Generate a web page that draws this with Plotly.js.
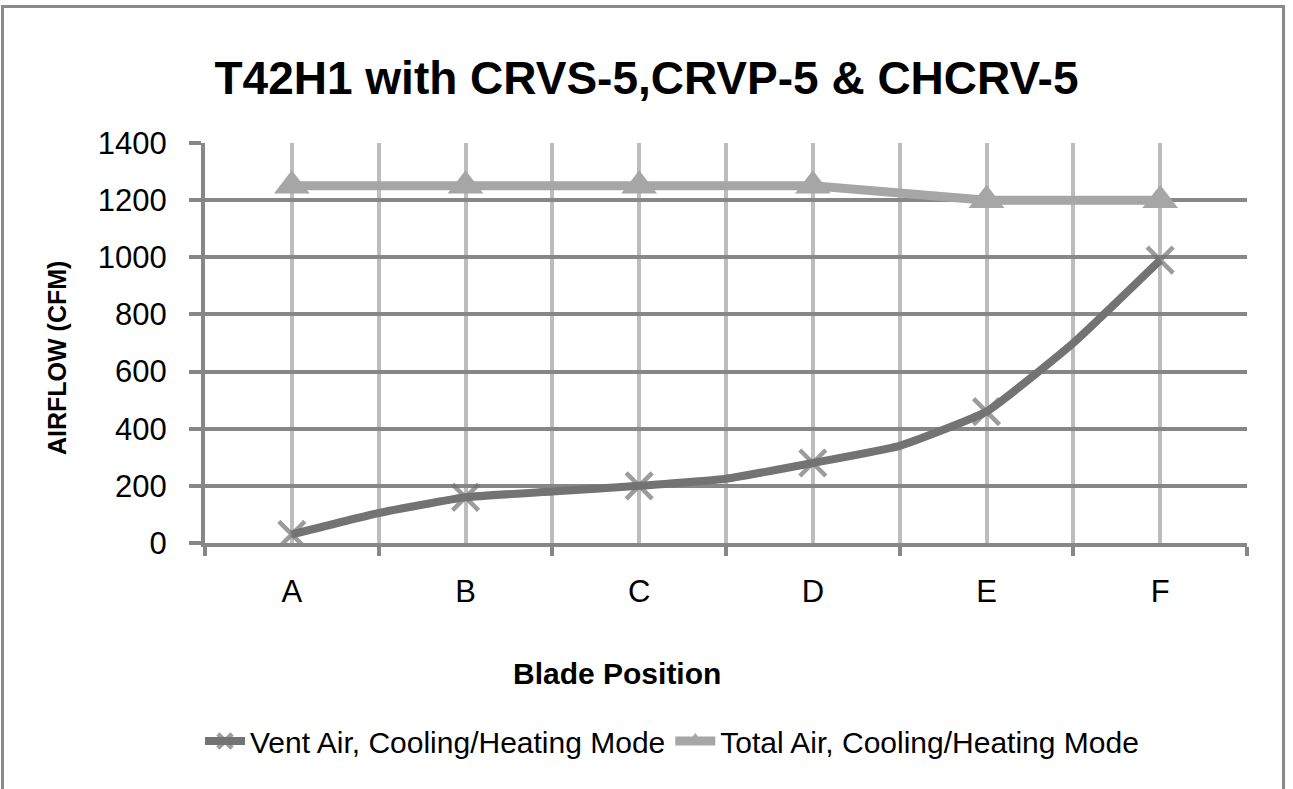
<!DOCTYPE html>
<html>
<head>
<meta charset="utf-8">
<script src="https://cdn.plot.ly/plotly-3.0.1.min.js"></script>
<style>
  html, body { margin: 0; padding: 0; background: #ffffff; overflow: hidden; }
  #chart { position: absolute; left: 0; top: 0; width: 1293px; height: 789px; }
  #frame { position: absolute; left: 1px; top: 5px; width: 1284px; height: 820px;
           border: 3px solid #8a8a8a; pointer-events: none; box-sizing: border-box; }
</style>
</head>
<body>
<div id="chart"></div>
<div id="frame"></div>
<script>
// ---- data ----
const categories = ['A', 'B', 'C', 'D', 'E', 'F'];
const categoryIndex = [0, 1, 2, 3, 4, 5];

// Total air, cooling/heating mode (CFM) at each blade position
const totalAir = [1250, 1250, 1250, 1250, 1200, 1200];

// Vent air, cooling/heating mode (CFM): readings at each blade position
// and at the intermediate positions between them
const ventPos = [0, 0.5, 1, 1.5, 2, 2.5, 3, 3.5, 4, 4.5, 5];
const ventAir = [30, 105, 160, 180, 200, 225, 280, 340, 460, 700, 990];

const seriesNames = ['Vent Air, Cooling/Heating Mode', 'Total Air, Cooling/Heating Mode'];

// ---- styles ----
const ventColor = '#737373';
const totalColor = '#a6a6a6';
const darkGrid = '#878787';
const lightGrid = '#bdbdbd';
const FONT = '"Liberation Sans", Arial, sans-serif';

const ventMarkerSizes = ventPos.map(p => Number.isInteger(p) ? 26 : 0);

const traces = [
  {
    type: 'scatter',
    mode: 'lines+markers',
    name: seriesNames[0],
    x: ventPos,
    y: ventAir,
    line: { color: ventColor, width: 8, shape: 'spline', smoothing: 0.4 },
    marker: { symbol: 'x-thin', size: ventMarkerSizes, color: ventColor,
              line: { color: ventColor, width: 4.5 } },
    hoverinfo: 'x+y'
  },
  {
    type: 'scatter',
    mode: 'lines+markers',
    name: seriesNames[1],
    x: categoryIndex,
    y: totalAir,
    line: { color: totalColor, width: 9 },
    marker: { symbol: 'triangle-up', size: 31, color: totalColor, line: { width: 0 } },
    hoverinfo: 'x+y'
  }
];

const layout = {
  width: 1293,
  height: 789,
  paper_bgcolor: 'rgba(0,0,0,0)',
  plot_bgcolor: '#ffffff',
  margin: { l: 205, r: 46, t: 143, b: 246, pad: 0 },
  font: { family: FONT, color: '#000000' },
  title: {
    text: '<b>T42H1 with CRVS-5,CRVP-5 & CHCRV-5</b>',
    font: { family: FONT, size: 46, color: '#000000' },
    x: 0.5, xref: 'container', xanchor: 'center',
    y: 1 - 78 / 789, yref: 'container', yanchor: 'middle'
  },
  xaxis: {
    type: 'linear',
    range: [-0.5, 5.5],
    tickmode: 'array',
    tickvals: categoryIndex,
    ticktext: categories,
    ticks: 'outside',
    ticklen: 0,
    tickwidth: 0,
    ticklabelstandoff: 18,
    tickfont: { family: FONT, size: 31, color: '#000000' },
    showgrid: true,
    gridcolor: lightGrid,
    gridwidth: 4,
    zeroline: false,
    showline: true,
    linecolor: darkGrid,
    linewidth: 4,
    minor: {
      tick0: 0.5,
      dtick: 1,
      ticks: 'outside',
      ticklen: 9,
      tickwidth: 4,
      tickcolor: darkGrid,
      showgrid: true,
      gridcolor: lightGrid,
      gridwidth: 4
    },
    fixedrange: true
  },
  yaxis: {
    range: [0, 1400],
    dtick: 200,
    tick0: 0,
    ticks: 'outside',
    ticklen: 12,
    tickwidth: 4,
    tickcolor: darkGrid,
    ticklabelstandoff: 16,
    tickfont: { family: FONT, size: 31, color: '#000000' },
    showgrid: true,
    gridcolor: darkGrid,
    gridwidth: 4,
    zeroline: false,
    showline: true,
    linecolor: darkGrid,
    linewidth: 4,
    fixedrange: true
  },
  annotations: [
    {
      text: '<b>Blade Position</b>',
      xref: 'paper', yref: 'paper',
      x: (617 - 205) / 1042, y: (543 - 673) / 400,
      xanchor: 'center', yanchor: 'middle',
      showarrow: false,
      font: { family: FONT, size: 30, color: '#000000' }
    },
    {
      text: '<b>AIRFLOW (CFM)</b>',
      xref: 'paper', yref: 'paper',
      x: (57 - 205) / 1042, y: (543 - 358) / 400,
      xanchor: 'center', yanchor: 'middle',
      textangle: -90,
      showarrow: false,
      font: { family: FONT, size: 25, color: '#000000' }
    }
  ],
  showlegend: true,
  legend: {
    orientation: 'h',
    x: (200 - 205) / 1042, xanchor: 'left',
    y: (543 - 741) / 400, yanchor: 'middle',
    font: { family: FONT, size: 30, color: '#000000' },
    bgcolor: 'rgba(0,0,0,0)',
    itemwidth: 40,
    tracegroupgap: 0
  },
  hovermode: false
};

Plotly.newPlot('chart', traces, layout, { displayModeBar: false, staticPlot: true });
</script>
</body>
</html>
